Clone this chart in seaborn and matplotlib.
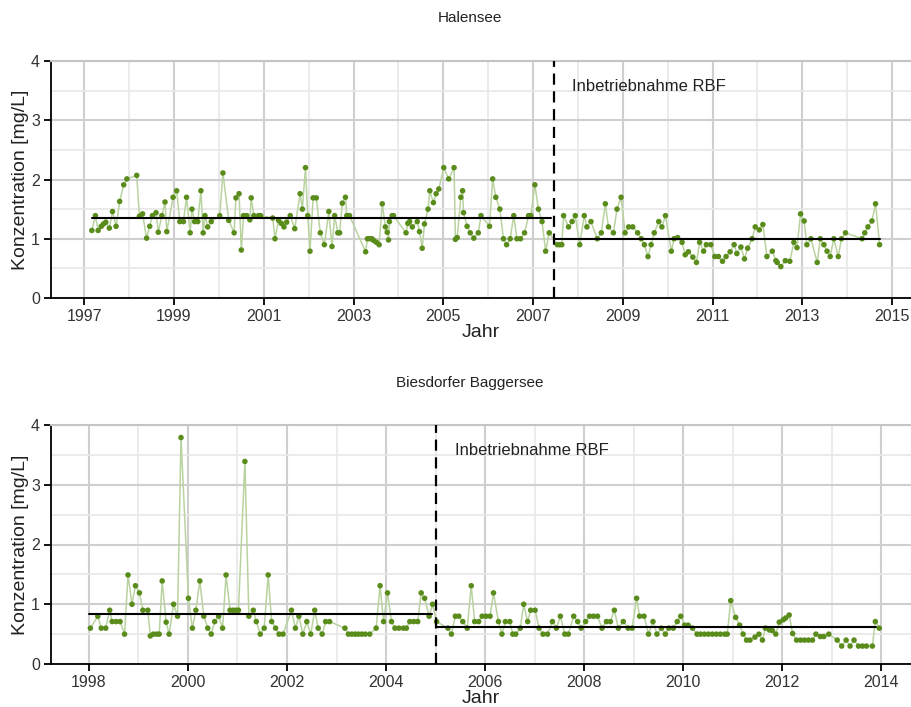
import pandas as pd
import matplotlib
matplotlib.use("Agg")
import matplotlib.pyplot as plt
from matplotlib.ticker import MultipleLocator, FixedLocator
import seaborn as sns

# Halensee (top panel): sampling dates as decimal years, concentration in mg/L
hal_year = [
    1997.17, 1997.25, 1997.31, 1997.38, 1997.43, 1997.48, 1997.56, 1997.63, 1997.71, 1997.79,
    1997.88, 1997.95, 1998.17, 1998.23, 1998.30, 1998.39, 1998.46, 1998.52, 1998.60, 1998.65,
    1998.73, 1998.80, 1998.84, 1998.98, 1999.06, 1999.13, 1999.21, 1999.28, 1999.36, 1999.40,
    1999.46, 1999.53, 1999.60, 1999.65, 1999.69, 1999.75, 1999.83, 2000.02, 2000.09, 2000.22,
    2000.34, 2000.38, 2000.45, 2000.50, 2000.55, 2000.62, 2000.69, 2000.72, 2000.78, 2000.88,
    2000.93, 2001.20, 2001.25, 2001.33, 2001.39, 2001.45, 2001.51, 2001.59, 2001.69, 2001.81,
    2001.86, 2001.93, 2001.98, 2002.03, 2002.10, 2002.17, 2002.26, 2002.35, 2002.45, 2002.52,
    2002.58, 2002.65, 2002.69, 2002.75, 2002.82, 2002.85, 2002.91, 2003.27, 2003.31, 2003.36,
    2003.41, 2003.45, 2003.51, 2003.57, 2003.64, 2003.71, 2003.75, 2003.78, 2003.80, 2003.86,
    2003.89, 2004.17, 2004.21, 2004.25, 2004.31, 2004.42, 2004.47, 2004.53, 2004.58, 2004.66,
    2004.70, 2004.78, 2004.84, 2004.90, 2005.01, 2005.12, 2005.24, 2005.27, 2005.31, 2005.39,
    2005.43, 2005.45, 2005.53, 2005.60, 2005.68, 2005.78, 2005.84, 2006.03, 2006.10, 2006.17,
    2006.26, 2006.34, 2006.41, 2006.49, 2006.57, 2006.64, 2006.72, 2006.81, 2006.90, 2006.95,
    2007.04, 2007.12, 2007.20, 2007.28, 2007.36, 2007.54, 2007.59, 2007.64, 2007.68, 2007.79,
    2007.87, 2007.94, 2008.04, 2008.14, 2008.20, 2008.29, 2008.43, 2008.52, 2008.61, 2008.68,
    2008.79, 2008.87, 2008.96, 2009.05, 2009.13, 2009.22, 2009.33, 2009.41, 2009.48, 2009.56,
    2009.63, 2009.70, 2009.80, 2009.87, 2009.95, 2010.08, 2010.14, 2010.22, 2010.32, 2010.39,
    2010.46, 2010.56, 2010.64, 2010.71, 2010.80, 2010.86, 2010.96, 2011.05, 2011.13, 2011.22,
    2011.30, 2011.39, 2011.48, 2011.54, 2011.63, 2011.71, 2011.78, 2011.88, 2011.95, 2012.04,
    2012.12, 2012.21, 2012.33, 2012.41, 2012.44, 2012.52, 2012.62, 2012.72, 2012.81, 2012.88,
    2012.96, 2013.04, 2013.10, 2013.19, 2013.33, 2013.40, 2013.48, 2013.55, 2013.62, 2013.70,
    2013.80, 2013.87, 2013.96, 2014.33, 2014.39, 2014.46, 2014.55, 2014.63, 2014.72,
]
hal_conc = [
    1.14, 1.39, 1.14, 1.21, 1.25, 1.28, 1.18, 1.46, 1.21, 1.63,
    1.91, 2.01, 2.07, 1.38, 1.42, 1.01, 1.21, 1.39, 1.44, 1.11,
    1.39, 1.62, 1.12, 1.70, 1.81, 1.29, 1.29, 1.70, 1.10, 1.50,
    1.29, 1.29, 1.81, 1.10, 1.39, 1.20, 1.29, 1.39, 2.11, 1.31,
    1.10, 1.69, 1.76, 0.81, 1.39, 1.39, 1.32, 1.69, 1.39, 1.39,
    1.39, 1.35, 1.00, 1.31, 1.26, 1.20, 1.28, 1.39, 1.17, 1.76,
    1.50, 2.20, 1.39, 0.79, 1.69, 1.69, 1.10, 0.90, 1.46, 0.87,
    1.39, 1.10, 1.10, 1.60, 1.70, 1.39, 1.39, 0.78, 1.00, 1.00,
    1.00, 0.97, 0.94, 0.90, 1.59, 1.20, 1.11, 0.98, 1.29, 1.39,
    1.39, 1.10, 1.26, 1.29, 1.20, 1.29, 1.12, 0.84, 1.25, 1.50,
    1.81, 1.61, 1.76, 1.84, 2.20, 2.01, 2.20, 0.99, 1.02, 1.70,
    1.81, 1.44, 1.21, 1.10, 1.01, 1.10, 1.39, 1.21, 2.01, 1.70,
    1.50, 1.00, 0.90, 1.00, 1.39, 1.00, 1.00, 1.10, 1.39, 1.39,
    1.91, 1.50, 1.29, 0.79, 1.10, 0.90, 0.90, 0.90, 1.39, 1.20,
    1.29, 1.39, 0.90, 1.39, 1.20, 1.29, 1.00, 1.10, 1.59, 1.20,
    1.10, 1.50, 1.70, 1.10, 1.20, 1.20, 1.10, 1.00, 0.90, 0.70,
    0.90, 1.10, 1.29, 1.20, 1.39, 0.79, 1.00, 1.02, 0.94, 0.73,
    0.78, 0.69, 0.60, 0.94, 0.79, 0.90, 0.90, 0.70, 0.70, 0.62,
    0.70, 0.78, 0.90, 0.75, 0.86, 0.66, 0.84, 1.00, 1.20, 1.15,
    1.24, 0.70, 0.79, 0.63, 0.60, 0.53, 0.63, 0.62, 0.94, 0.85,
    1.42, 1.30, 0.90, 1.00, 0.60, 1.00, 0.90, 0.79, 0.70, 1.00,
    0.70, 1.00, 1.10, 1.00, 1.10, 1.20, 1.30, 1.59, 0.90,
]

# Biesdorfer Baggersee (bottom panel)
bies_year = [
    1998.03, 1998.18, 1998.25, 1998.34, 1998.42, 1998.47, 1998.55, 1998.63, 1998.72, 1998.79,
    1998.87, 1998.94, 1999.02, 1999.09, 1999.19, 1999.24, 1999.30, 1999.37, 1999.42, 1999.48,
    1999.56, 1999.62, 1999.71, 1999.79, 1999.86, 2000.01, 2000.09, 2000.16, 2000.24, 2000.32,
    2000.40, 2000.47, 2000.54, 2000.62, 2000.70, 2000.77, 2000.85, 2000.91, 2000.97, 2001.02,
    2001.15, 2001.23, 2001.32, 2001.38, 2001.46, 2001.54, 2001.62, 2001.69, 2001.77, 2001.84,
    2001.92, 2002.09, 2002.17, 2002.24, 2002.32, 2002.40, 2002.48, 2002.56, 2002.63, 2002.71,
    2002.78, 2002.86, 2003.17, 2003.24, 2003.31, 2003.38, 2003.44, 2003.51, 2003.58, 2003.67,
    2003.80, 2003.88, 2003.95, 2004.03, 2004.11, 2004.18, 2004.26, 2004.35, 2004.41, 2004.48,
    2004.56, 2004.64, 2004.71, 2004.78, 2004.87, 2004.94, 2005.02, 2005.25, 2005.32, 2005.40,
    2005.47, 2005.55, 2005.64, 2005.72, 2005.79, 2005.87, 2005.94, 2006.02, 2006.10, 2006.17,
    2006.27, 2006.34, 2006.41, 2006.50, 2006.56, 2006.62, 2006.71, 2006.78, 2006.86, 2006.92,
    2007.01, 2007.09, 2007.17, 2007.26, 2007.36, 2007.44, 2007.52, 2007.61, 2007.68, 2007.79,
    2007.87, 2007.94, 2008.03, 2008.11, 2008.19, 2008.27, 2008.36, 2008.45, 2008.53, 2008.61,
    2008.69, 2008.79, 2008.89, 2008.97, 2009.06, 2009.12, 2009.21, 2009.30, 2009.39, 2009.47,
    2009.56, 2009.64, 2009.71, 2009.80, 2009.88, 2009.95, 2010.03, 2010.10, 2010.19, 2010.28,
    2010.35, 2010.43, 2010.51, 2010.59, 2010.67, 2010.75, 2010.84, 2010.89, 2010.96, 2011.06,
    2011.14, 2011.21, 2011.28, 2011.35, 2011.45, 2011.53, 2011.60, 2011.66, 2011.74, 2011.80,
    2011.87, 2011.94, 2012.02, 2012.07, 2012.14, 2012.21, 2012.29, 2012.37, 2012.45, 2012.53,
    2012.61, 2012.68, 2012.77, 2012.84, 2012.94, 2013.11, 2013.20, 2013.29, 2013.37, 2013.45,
    2013.54, 2013.62, 2013.70, 2013.82, 2013.88, 2013.96,
]
bies_conc = [
    0.60, 0.80, 0.60, 0.60, 0.90, 0.71, 0.71, 0.71, 0.50, 1.49,
    1.00, 1.31, 1.19, 0.90, 0.90, 0.47, 0.50, 0.50, 0.50, 1.39,
    0.70, 0.50, 1.00, 0.80, 3.79, 1.10, 0.60, 0.90, 1.39, 0.80,
    0.60, 0.50, 0.71, 0.80, 0.60, 1.49, 0.90, 0.90, 0.90, 0.90,
    3.39, 0.80, 0.90, 0.71, 0.50, 0.60, 1.49, 0.71, 0.60, 0.50,
    0.50, 0.90, 0.60, 0.80, 0.50, 0.71, 0.50, 0.90, 0.60, 0.50,
    0.71, 0.71, 0.60, 0.50, 0.50, 0.50, 0.50, 0.50, 0.50, 0.50,
    0.60, 1.31, 0.71, 1.19, 0.71, 0.60, 0.60, 0.60, 0.60, 0.71,
    0.71, 0.71, 1.19, 1.10, 0.80, 1.00, 0.71, 0.60, 0.50, 0.80,
    0.80, 0.71, 0.60, 1.31, 0.71, 0.71, 0.80, 0.80, 0.80, 1.19,
    0.71, 0.50, 0.71, 0.71, 0.50, 0.50, 0.60, 1.00, 0.71, 0.90,
    0.90, 0.60, 0.50, 0.50, 0.71, 0.60, 0.80, 0.50, 0.50, 0.80,
    0.71, 0.60, 0.71, 0.80, 0.80, 0.80, 0.60, 0.71, 0.71, 0.90,
    0.60, 0.71, 0.60, 0.60, 1.10, 0.80, 0.80, 0.50, 0.71, 0.50,
    0.60, 0.50, 0.60, 0.60, 0.71, 0.80, 0.65, 0.65, 0.60, 0.50,
    0.50, 0.50, 0.50, 0.50, 0.50, 0.50, 0.50, 0.50, 1.06, 0.78,
    0.65, 0.50, 0.40, 0.40, 0.45, 0.50, 0.40, 0.60, 0.57, 0.56,
    0.50, 0.70, 0.74, 0.77, 0.82, 0.51, 0.40, 0.40, 0.40, 0.40,
    0.40, 0.50, 0.46, 0.46, 0.50, 0.40, 0.30, 0.40, 0.30, 0.40,
    0.30, 0.30, 0.30, 0.30, 0.71, 0.60,
]

# start of bank filtration (RBF) and mean levels before / after
hal_rbf = 2007.46
hal_means = [1.35, 0.99]
hal_mean_spans = [(1997.17, 2007.39), (2007.46, 2014.74)]
bies_rbf = 2005.0
bies_means = [0.83, 0.62]
bies_mean_spans = [(1998.0, 2004.92), (2005.0, 2013.9)]

# labelled years on the x axes
hal_ticks = [1997, 1999, 2001, 2003, 2005, 2007, 2009, 2011, 2013, 2015]
bies_ticks = [1998, 2000, 2002, 2004, 2006, 2008, 2010, 2012, 2014]

sns.set_theme(style="whitegrid")
plt.rcParams["font.family"] = ["Liberation Sans", "DejaVu Sans"]

fig = plt.figure(figsize=(9.11, 7.07), dpi=100)
ax1 = fig.add_axes([51 / 911, 1 - 298 / 707, 860 / 911, 237 / 707])
ax2 = fig.add_axes([51 / 911, 1 - 664 / 707, 860 / 911, 239 / 707])

panels = [
    (ax1, "Halensee", hal_year, hal_conc, hal_rbf, hal_means, hal_mean_spans, hal_ticks, (1996.26, 2015.42), 18),
    (ax2, "Biesdorfer Baggersee", bies_year, bies_conc, bies_rbf, bies_means, bies_mean_spans, bies_ticks, (1997.235, 2014.6), 383),
]

for ax, name, yrs, conc, rbf, means, spans, ticks, xlim, title_y in panels:
    df = pd.DataFrame({"Jahr": yrs, "Konzentration": conc})
    sns.lineplot(data=df, x="Jahr", y="Konzentration", ax=ax, color="#b9d3a0",
                 linewidth=1.1, estimator=None, sort=False, zorder=3)
    sns.scatterplot(data=df, x="Jahr", y="Konzentration", ax=ax, color="#5a8c1c",
                    s=16, edgecolor="none", zorder=4)
    for m, (x0, x1) in zip(means, spans):
        ax.plot([x0, x1], [m, m], color="black", linewidth=1.5, zorder=5)
    ax.axvline(rbf, color="black", linewidth=1.6, linestyle=(0, (5, 3)), zorder=6)
    ax.text(rbf + 0.4, 3.57, "Inbetriebnahme RBF", fontsize=12, color="#222222", va="center")

    ax.set_xlim(*xlim)
    ax.set_ylim(0, 4)
    ax.xaxis.set_major_locator(FixedLocator(ticks))
    ax.xaxis.set_minor_locator(MultipleLocator(1))
    ax.yaxis.set_major_locator(MultipleLocator(1))
    ax.yaxis.set_minor_locator(MultipleLocator(0.5))
    ax.set_xticklabels([str(t) for t in ticks])
    ax.grid(which="major", color="#cfcfcf", linewidth=1.5)
    ax.grid(which="minor", color="#e8e8e8", linewidth=1.2)
    ax.set_axisbelow(True)

    ax.spines["right"].set_visible(False)
    ax.spines["top"].set_color("#c4c4c4")
    ax.spines["top"].set_linewidth(1.5)
    for side in ["left", "bottom"]:
        ax.spines[side].set_color("black")
        ax.spines[side].set_linewidth(1.3)
    ax.tick_params(which="major", direction="out", length=5, width=1.3, color="black",
                   labelsize=11.5, labelcolor="#333333", left=True, bottom=True, pad=3)
    ax.tick_params(which="minor", length=0)

    ax.set_xlabel("Jahr", fontsize=14, color="#222222", labelpad=0)
    ax.set_ylabel("Konzentration [mg/L]", fontsize=14, color="#222222", labelpad=1)
    fig.text(470 / 911, 1 - title_y / 707, name, ha="center", va="center", fontsize=11, color="#222222")

fig.savefig("out.png", dpi=100)
